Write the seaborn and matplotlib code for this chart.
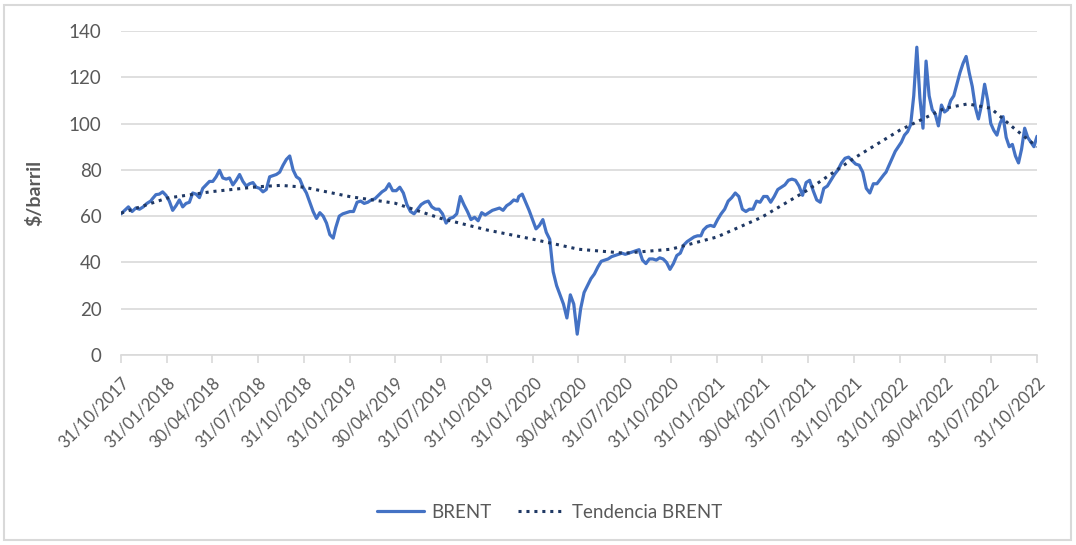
import numpy as np
import pandas as pd
import matplotlib
matplotlib.use("Agg")
import matplotlib.pyplot as plt
import seaborn as sns
from matplotlib.patches import Rectangle

# ---------------- data ----------------
brent_2017 = [61, 62.5, 64, 62, 63.5, 63, 64, 65.5, 66.5]
brent_2018 = [67.6, 69.3, 69.5, 70.5, 69, 66.5, 62.5, 64.5, 67, 64, 65.5, 66, 70, 69.5,
              68, 72, 73.5, 75, 75, 77, 79.8, 76.5, 76, 76.5, 73.5, 75.5, 78, 75, 73, 74,
              74.5, 72.5, 72, 70.5, 71.5, 77, 77.5, 78, 79, 82, 84.5, 86, 80, 77, 76, 72.5,
              70, 66, 62, 59, 61.5, 60, 57, 52, 50.5]
brent_2019 = [55, 60, 61, 61.5, 62, 62, 66, 66.5, 65.5, 66, 67, 67.5, 69, 70.5, 71.5, 74,
              71, 71, 72.5, 70, 65, 62, 61, 63, 65, 66, 66.5, 64, 63, 63, 61, 57, 59, 59.5,
              61, 68.5, 65, 62, 58.5, 59.5, 58, 61.5, 60.5, 61.5, 62.5, 63, 63.5, 62.5,
              64.5, 65.5, 67, 66.5]
brent_2020 = [68.5, 69.5, 66, 62.5, 58.5, 54.5, 56, 58.5, 53, 50, 36, 30, 26, 22, 16, 26,
              22, 9, 20, 27, 30, 33, 35, 38, 40.5, 41, 41.5, 42.5, 43, 43.5, 44, 43.5, 44,
              44.5, 45, 45.5, 41, 39.5, 41.5, 41.5, 41, 42, 41.5, 40, 37, 39.5, 43, 44,
              47.5, 49, 50, 51, 51.5, 51.5]
brent_2021 = [54, 55.5, 56, 55.5, 58.5, 61, 63, 66.5, 68, 70, 68.5, 63, 62, 63, 63, 66.5,
              66, 68.5, 68.5, 66, 68.5, 71.5, 72.5, 73.5, 75.5, 76, 75.5, 73, 69, 74.5,
              75.5, 71, 67, 66, 72, 73, 75.5, 78, 80, 83, 85, 85.5, 84, 82.5, 82, 79, 72,
              70, 74, 74, 76, 78]
brent_2022 = [79, 82, 85, 88, 90, 92, 95, 96.5, 99.5, 112, 133, 111, 98, 127, 112, 106,
              104, 99, 108, 105, 106, 110, 112, 117, 122, 126, 129, 122, 116, 107, 102,
              108, 117, 110, 100, 97, 95, 100, 103, 94, 90, 91, 86, 83, 89, 98, 94, 92,
              90, 94.5]

trend_dates = ["31/10/2017", "31/01/2018", "30/04/2018", "31/07/2018", "15/09/2018",
               "31/10/2018", "31/01/2019", "30/04/2019", "31/07/2019", "31/10/2019",
               "31/01/2020", "30/04/2020", "31/07/2020", "31/10/2020", "31/01/2021",
               "30/04/2021", "31/07/2021", "31/10/2021", "31/01/2022", "30/04/2022",
               "15/06/2022", "31/07/2022", "15/09/2022", "31/10/2022"]
trend_values = [61.3, 67.8, 70.6, 72.7, 73.3, 72.5, 68.4, 65.6, 59, 54, 50, 45.7, 44,
                45.7, 51, 59.5, 71.3, 85, 97.2, 106.6, 108.5, 106.6, 98, 90]

tick_labels = ["31/10/2017", "31/01/2018", "30/04/2018", "31/07/2018", "31/10/2018",
               "31/01/2019", "30/04/2019", "31/07/2019", "31/10/2019", "31/01/2020",
               "30/04/2020", "31/07/2020", "31/10/2020", "31/01/2021", "30/04/2021",
               "31/07/2021", "31/10/2021", "31/01/2022", "30/04/2022", "31/07/2022",
               "31/10/2022"]

year_spans = [("2017-10-31", "2017-12-29", brent_2017),
              ("2018-01-02", "2018-12-28", brent_2018),
              ("2019-01-02", "2019-12-30", brent_2019),
              ("2020-01-02", "2020-12-30", brent_2020),
              ("2021-01-04", "2021-12-30", brent_2021),
              ("2022-01-03", "2022-10-31", brent_2022)]

frames = []
for start, end, vals in year_spans:
    frames.append(pd.DataFrame({"fecha": pd.date_range(start, end, periods=len(vals)),
                                "valor": vals}))
brent = pd.concat(frames, ignore_index=True)
brent["serie"] = "BRENT"

trend = pd.DataFrame({"fecha": pd.to_datetime(trend_dates, dayfirst=True),
                      "valor": trend_values})
trend["serie"] = "Tendencia BRENT"

# ---------------- plot ----------------
sns.set_theme(style="white")
plt.rcParams["font.family"] = ["Lato", "DejaVu Sans"]

W, H = 1076, 545
fig = plt.figure(figsize=(W / 100, H / 100), dpi=100)
ax = fig.add_axes([121 / W, 1 - 355 / H, (1037 - 121) / W, (355 - 31) / H])

grey_txt = "#595959"
grid_c = "#d9d9d9"

sns.lineplot(data=brent, x="fecha", y="valor", ax=ax, color="#4472C4", lw=2.3,
             label="BRENT")
sns.lineplot(data=trend, x="fecha", y="valor", ax=ax, color="#1F3864", lw=2.2,
             linestyle=(0, (1, 1.6)), label="Tendencia BRENT")

ax.set_ylim(0, 140)
ax.set_yticks(np.arange(0, 141, 20))
ax.yaxis.grid(True, color=grid_c, lw=1.2)
ax.set_axisbelow(True)

ticks = pd.to_datetime(tick_labels, dayfirst=True)
ax.set_xlim(ticks[0], ticks[-1])
ax.set_xticks(ticks)
ax.set_xticklabels(tick_labels, rotation=45, ha="right", va="top",
                   rotation_mode="anchor", color=grey_txt, fontsize=12)
ax.tick_params(axis="x", length=6, width=1.2, color=grid_c, direction="out", pad=8,
               bottom=True)
ax.tick_params(axis="y", length=0, pad=14, labelsize=13.5, labelcolor=grey_txt)

for s in ["top", "right", "left"]:
    ax.spines[s].set_visible(False)
ax.spines["bottom"].set_color(grid_c)
ax.spines["bottom"].set_linewidth(1.2)

ax.set_xlabel("")
ax.set_ylabel("$/barril", fontsize=14, fontweight="bold", color=grey_txt, labelpad=18)

ax.get_legend().remove()
handles, labels = ax.get_legend_handles_labels()
leg = fig.legend(handles, labels, loc="center", bbox_to_anchor=(0.511, 1 - 512 / H),
                 ncol=2, frameon=False, fontsize=13.5, handlelength=2.5,
                 handletextpad=0.4, columnspacing=1.4, labelcolor=grey_txt)

fig.patches.append(Rectangle((4 / W, 5 / H), (W - 9) / W, (H - 10) / H,
                             transform=fig.transFigure, fill=False,
                             edgecolor="#d9d9d9", lw=1.5))

fig.savefig("out.png", dpi=100, facecolor="white")
